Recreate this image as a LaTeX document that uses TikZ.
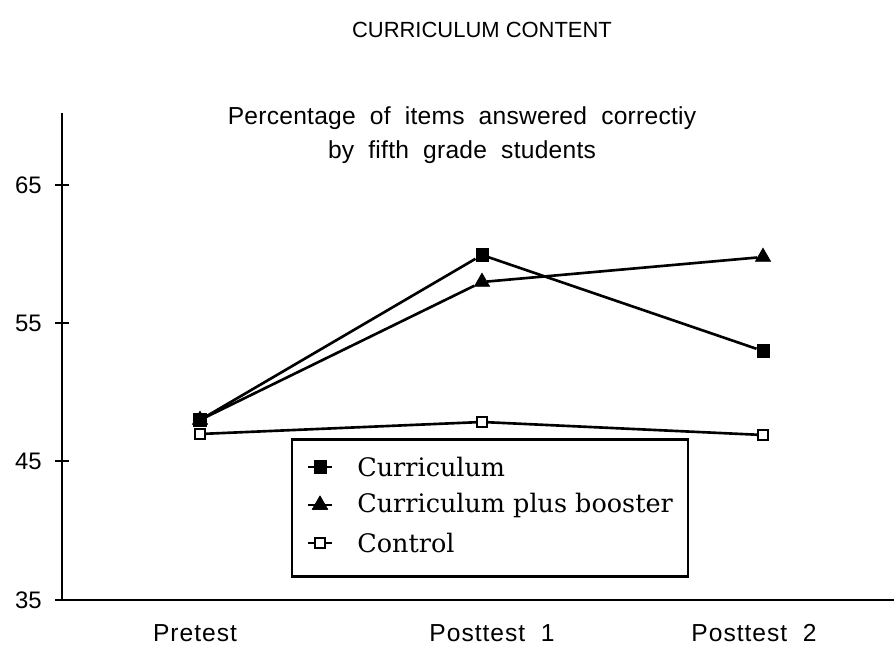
\documentclass[tikz,border=0pt]{standalone}
\usepackage{fontspec}
\setmainfont{Liberation Sans}
\newfontfamily\labfont[LetterSpace=4]{Liberation Sans}
\newfontfamily\subfont[LetterSpace=1]{Liberation Sans}
\newfontfamily\legendfont{DejaVu Serif}
\usetikzlibrary{shapes.geometric}

\begin{document}
\begin{tikzpicture}[x=0.02cm,y=-0.02cm,
    fsq/.style={rectangle,fill,draw,inner sep=0pt,minimum size=7pt},
    ftri/.style={regular polygon,regular polygon sides=3,fill,draw,inner sep=0pt,minimum size=10pt},
    osq/.style={rectangle,draw,fill=white,line width=1.1pt,inner sep=0pt,minimum size=5.6pt},
    dataline/.style={line width=1.5pt},
    lab/.style={font=\labfont\fontsize{14}{16}\selectfont},
    legtext/.style={font=\legendfont\fontsize{14.5}{17}\selectfont,anchor=west,inner sep=0pt}]
  \useasboundingbox (0,0) rectangle (894,648);
  % titles
  \node[font=\fontsize{12.5}{15}\selectfont] (title) at (482,30) {CURRICULUM CONTENT};
  \node[font=\subfont\fontsize{14}{19.3}\selectfont,align=center] (sub) at (462,135)
    {Percentage \ of \ items \ answered \ correctiy\\by \ fifth \ grade \ students};
  % axes
  \coordinate (o) at (62,600);
  \coordinate (ytop) at (62,113);
  \coordinate (xend) at (894,600);
  \draw[line width=1.7pt] (ytop) -- (o) -- (xend);
  \foreach \v/\y in {65/185, 55/323, 45/461, 35/600} {
    \draw[line width=1.3pt] (55,\y) -- (69,\y);
    \node[font=\fontsize{13.6}{15}\selectfont,anchor=east] (t\v) at (48,\y) {\v};
  }
  \foreach \x/\lbl/\n in {195/Pretest/pre, 492/Posttest\ \ 1/p1, 754/Posttest\ \ 2/p2}
    \node[lab] (\n) at (\x,633) {\lbl};
  % data points
  \foreach \n/\x/\y in {b1/200/420, b2/482/282, b3/763/257}
    \node[ftri] (\n) at (\x,\y) {};
  \foreach \n/\x/\y in {c1/200/420, c2/482/255, c3/763/351}
    \node[fsq] (\n) at (\x,\y) {};
  \foreach \n/\x/\y in {k1/200/434, k2/482/422, k3/763/435}
    \node[osq] (\n) at (\x,\y) {};
  \draw[dataline] (c1) -- (c2) -- (c3);
  \draw[dataline] (b1) -- (b2) -- (b3);
  \draw[dataline] (k1) -- (k2) -- (k3);
  % legend
  \node[draw,fill=white,line width=1.3pt,minimum width=7.92cm,minimum height=2.74cm] (legend) at (490,508) {};
  \node[fsq] (lc) at (320,467) {};
  \node[ftri] (lb) at (320,505) {};
  \node[osq] (lk) at (320,543) {};
  \foreach \m in {lc,lb,lk}
    \draw[dataline] (\m.center) ++(-12,0) -- ++(24,0);
  \node[fsq] at (lc) {};
  \node[ftri] at (lb) {};
  \node[osq] at (lk) {};
  \node[legtext] (lct) at (357,467) {Curriculum};
  \node[legtext] (lbt) at (357,505) {Curriculum plus booster};
  \node[legtext] (lkt) at (357,543) {Control};
\end{tikzpicture}
\end{document}
